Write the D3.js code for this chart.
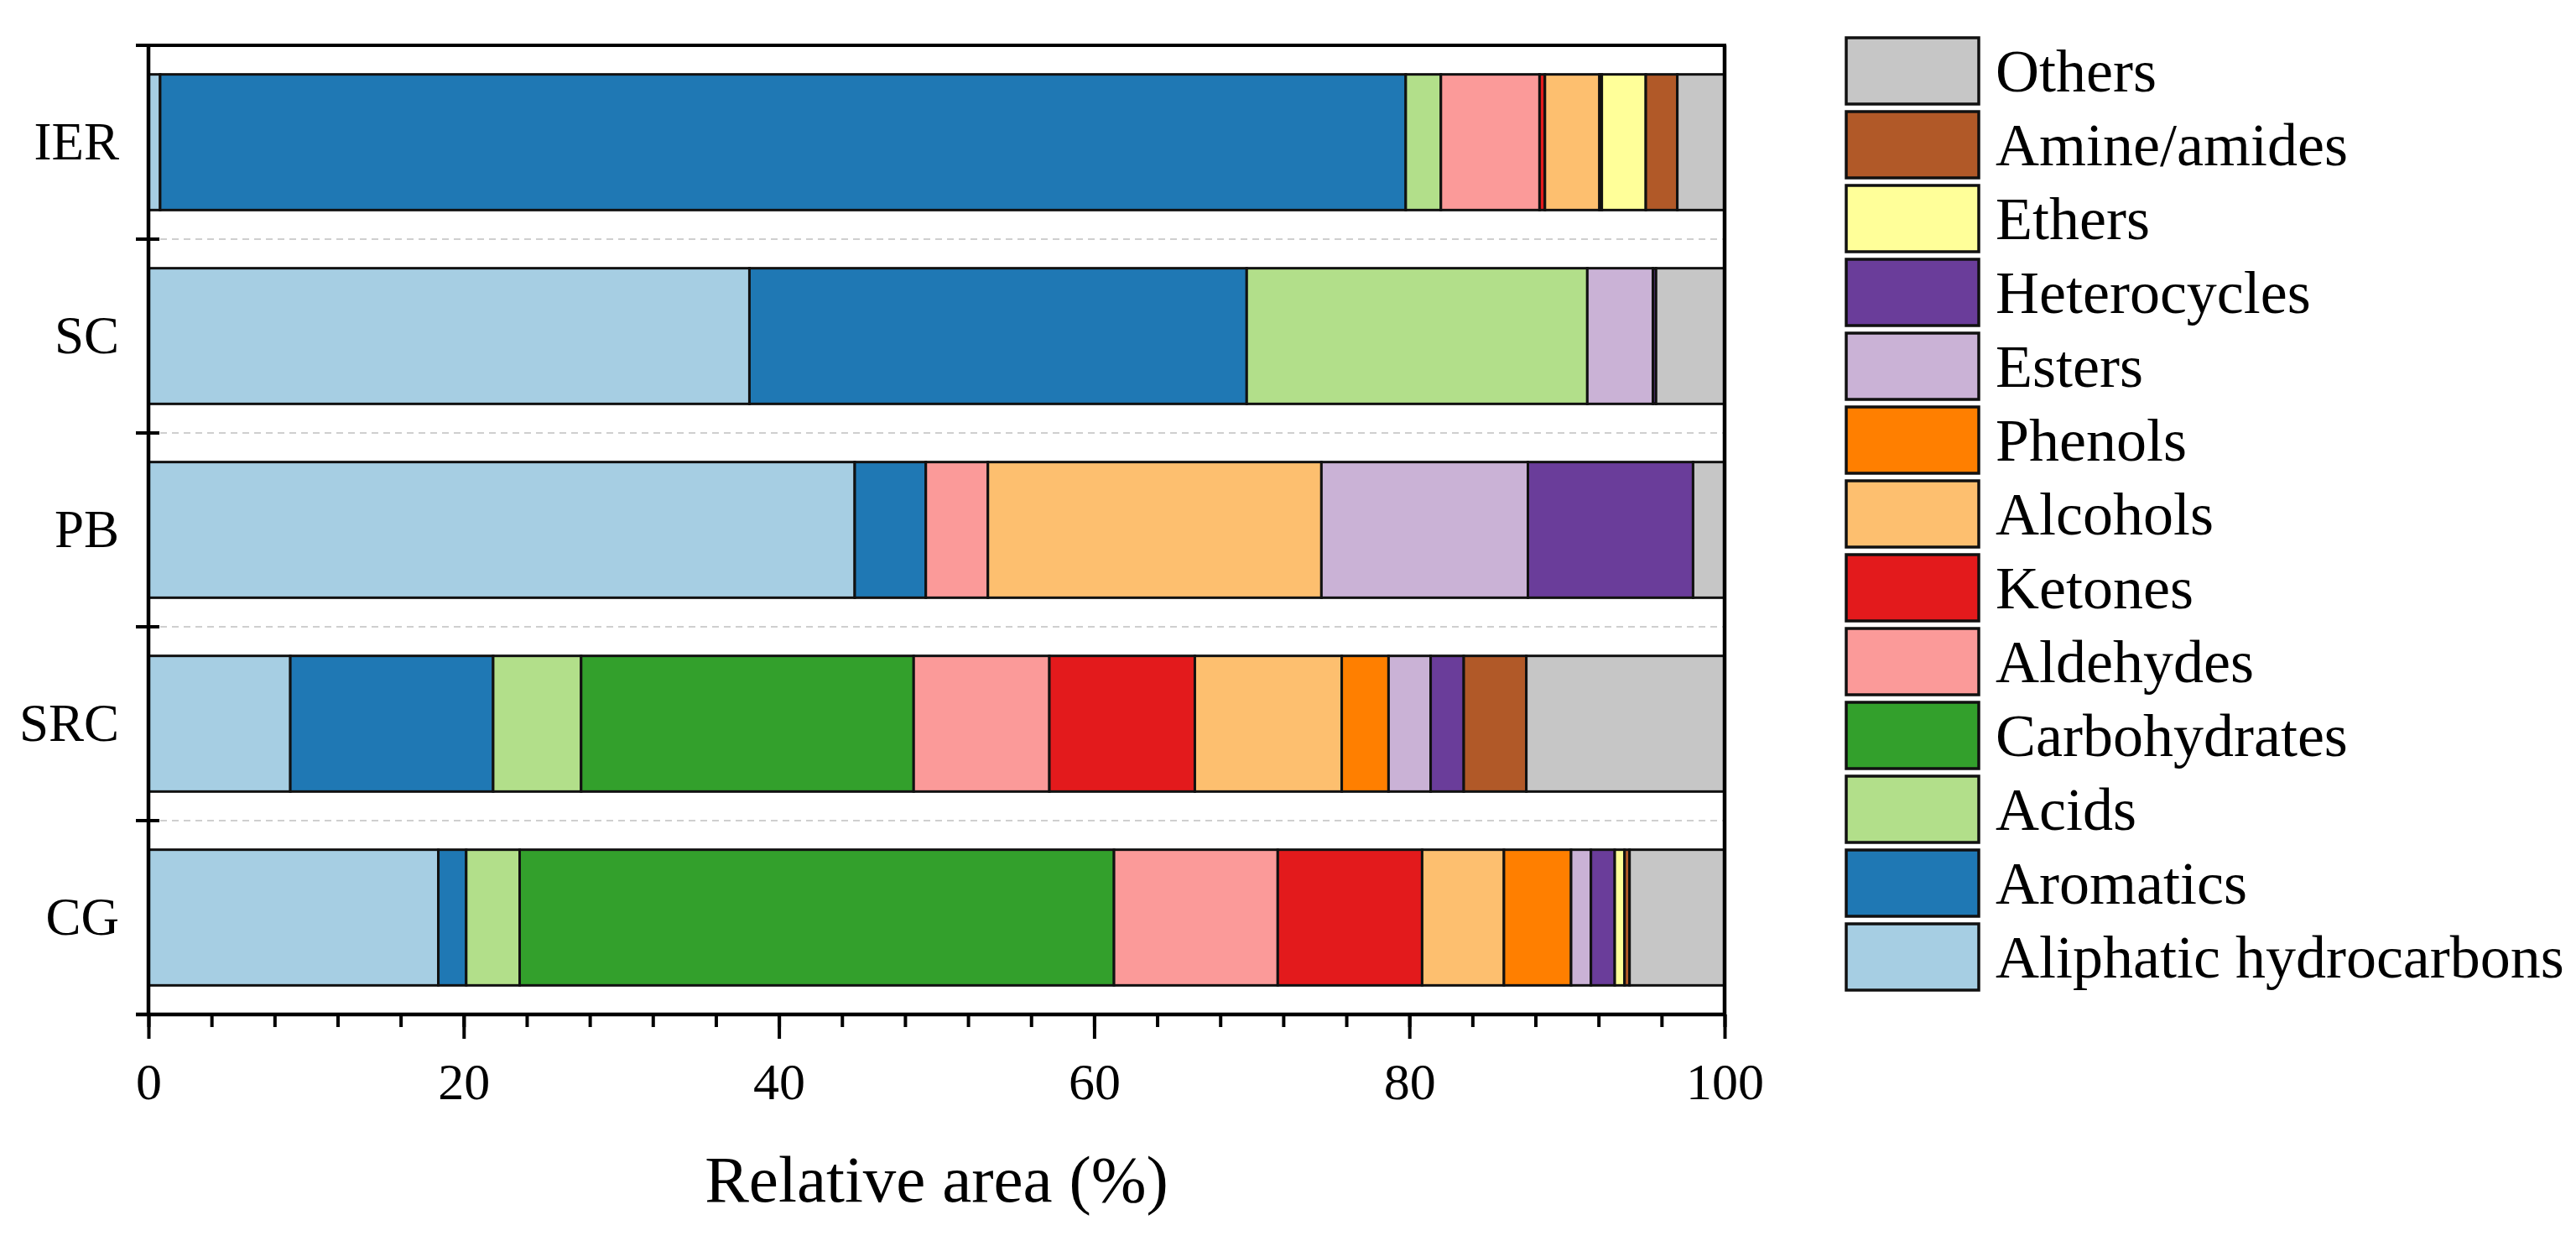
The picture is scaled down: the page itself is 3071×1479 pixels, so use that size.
<!DOCTYPE html>
<html>
<head>
<meta charset="utf-8">
<script src="https://cdn.jsdelivr.net/npm/d3@7"></script>
<style>
  body { margin: 0; background: #fff; }
  svg { display: block; font-family: "Liberation Serif", "Times New Roman", serif; }
</style>
</head>
<body>
<svg id="chart" width="3071" height="1479"></svg>
<script>
// samples, top to bottom
const samples = ["IER", "SC", "PB", "SRC", "CG"];

// compound groups, stacked left to right
const groups = ["Aliphatic hydrocarbons", "Aromatics", "Acids", "Carbohydrates", "Aldehydes",
  "Ketones", "Alcohols", "Phenols", "Esters", "Heterocycles", "Ethers", "Amine/amides", "Others"];

const groupColors = ["#a6cee3", "#1f78b4", "#b2df8a", "#33a02c", "#fb9a99",
  "#e31a1c", "#fdbf6f", "#ff7f00", "#cab2d6", "#6a3d9a", "#ffff99", "#b15928", "#c6c6c6"];

// relative area (%) per sample, same order as groups
const ierValues = [0.74, 79.03, 2.23, 0, 6.26, 0.34, 3.46, 0.15, 0, 0, 2.79, 2.0, 3.0];
const scValues  = [38.13, 31.55, 21.61, 0, 0, 0, 0, 0, 4.16, 0.2, 0, 0, 4.35];
const pbValues  = [44.81, 4.51, 0, 0, 3.94, 0, 21.16, 0, 13.10, 10.48, 0, 0, 2.0];
const srcValues = [9.0, 12.87, 5.58, 21.10, 8.61, 9.23, 9.32, 2.97, 2.67, 2.10, 0, 3.97, 12.58];
const cgValues  = [18.39, 1.77, 3.39, 37.71, 10.39, 9.16, 5.19, 4.26, 1.26, 1.51, 0.62, 0.32, 6.03];

const xMajorTicks = [0, 20, 40, 60, 80, 100];
const xTitle = "Relative area (%)";

const sampleValues = [ierValues, scValues, pbValues, srcValues, cgValues];
const rows = samples.map((s, i) => {
    const row = { sample: s };
    groups.forEach((g, j) => { row[g] = sampleValues[i][j]; });
    return row;
});

const plotLeft = 177;
const plotRight = 2056;
const plotTop = 54;
const plotBottom = 1209;

const svg = d3.select('#chart');

const x = d3.scaleLinear().domain([0, 100]).range([plotLeft, plotRight]);
const y = d3.scaleBand()
    .domain(samples)
    .range([plotTop, plotBottom])
    .paddingInner(0.3)
    .paddingOuter(0.15);
const color = d3.scaleOrdinal().domain(groups).range(groupColors);

// band boundaries (between samples, plus top and bottom)
const step = y.step();
const boundaries = d3.range(samples.length + 1).map(i => plotTop + i * step);

// dashed grid lines between samples
svg.append('g')
    .selectAll('line')
    .data(boundaries.slice(1, -1))
    .join('line')
    .attr('x1', plotLeft)
    .attr('x2', plotRight)
    .attr('y1', d => d)
    .attr('y2', d => d)
    .attr('stroke', '#cfcfcf')
    .attr('stroke-width', 2)
    .attr('stroke-dasharray', '8,6');

// stacked bars
const stacked = d3.stack().keys(groups)(rows);
svg.append('g')
    .selectAll('g')
    .data(stacked)
    .join('g')
    .attr('fill', d => color(d.key))
    .selectAll('rect')
    .data(d => d.filter(seg => seg[1] - seg[0] > 0))
    .join('rect')
    .attr('x', d => x(d[0]))
    .attr('width', d => x(d[1]) - x(d[0]))
    .attr('y', d => y(d.data.sample))
    .attr('height', y.bandwidth())
    .attr('stroke', '#111')
    .attr('stroke-width', 3);

// frame: top and right lines
svg.append('line')
    .attr('x1', 162).attr('x2', plotRight + 2)
    .attr('y1', plotTop).attr('y2', plotTop)
    .attr('stroke', '#000').attr('stroke-width', 4);
svg.append('line')
    .attr('x1', plotRight).attr('x2', plotRight)
    .attr('y1', plotTop).attr('y2', plotBottom)
    .attr('stroke', '#000').attr('stroke-width', 4.5);

// x axis: minor ticks every 4
svg.append('g')
    .attr('transform', `translate(0,${plotBottom})`)
    .call(d3.axisBottom(x).tickValues(d3.range(0, 101, 4)).tickSize(15).tickFormat(''))
    .call(g => g.select('.domain').remove())
    .call(g => g.selectAll('.tick line').attr('stroke', '#000').attr('stroke-width', 4));

// x axis: major ticks
const xAxis = svg.append('g')
    .attr('transform', `translate(0,${plotBottom})`)
    .call(d3.axisBottom(x).tickValues(xMajorTicks).tickSize(29).tickPadding(28).tickSizeOuter(0));
xAxis.select('.domain').remove();
xAxis.selectAll('.tick line').attr('stroke', '#000').attr('stroke-width', 4);
xAxis.selectAll('.tick text')
    .attr('fill', '#000')
    .attr('font-size', 62)
    .attr('font-family', '"Liberation Serif", "Times New Roman", serif');

svg.append('line')
    .attr('x1', 162).attr('x2', plotRight + 2)
    .attr('y1', plotBottom).attr('y2', plotBottom)
    .attr('stroke', '#000').attr('stroke-width', 4.5);

// y axis: line, boundary ticks, sample labels
svg.append('line')
    .attr('x1', plotLeft).attr('x2', plotLeft)
    .attr('y1', plotTop).attr('y2', plotBottom)
    .attr('stroke', '#000').attr('stroke-width', 4.5);

svg.append('g')
    .selectAll('line')
    .data(boundaries)
    .join('line')
    .attr('x1', 162)
    .attr('x2', 190)
    .attr('y1', d => d)
    .attr('y2', d => d)
    .attr('stroke', '#000')
    .attr('stroke-width', 4);

svg.append('g')
    .selectAll('text')
    .data(samples)
    .join('text')
    .attr('x', 142)
    .attr('y', d => y(d) + y.bandwidth() / 2 + 20)
    .attr('text-anchor', 'end')
    .attr('font-size', 63)
    .text(d => d);

// x axis title
svg.append('text')
    .attr('x', (plotLeft + plotRight) / 2)
    .attr('y', 1432)
    .attr('text-anchor', 'middle')
    .attr('font-size', 79)
    .text(xTitle);

// legend, reversed so that Others is on top
const legendTop = 45;
const legendStep = 88;
const legend = svg.append('g')
    .selectAll('g')
    .data(groups.slice().reverse())
    .join('g')
    .attr('transform', (d, i) => `translate(2201,${legendTop + i * legendStep})`);

legend.append('rect')
    .attr('width', 158)
    .attr('height', 79)
    .attr('fill', d => color(d))
    .attr('stroke', '#111')
    .attr('stroke-width', 3.5);

legend.append('text')
    .attr('x', 178)
    .attr('y', 79 / 2 + 24)
    .attr('font-size', 72)
    .text(d => d);
</script>
</body>
</html>
